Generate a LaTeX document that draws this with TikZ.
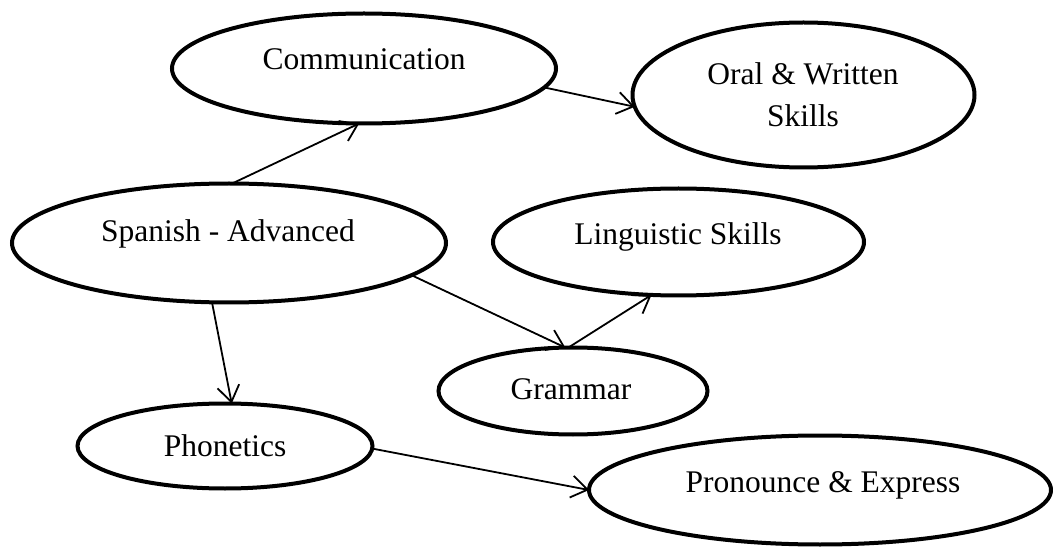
\documentclass[tikz,border=0pt]{standalone}
\usepackage{fontspec}
\setmainfont{Liberation Serif}
\usetikzlibrary{shapes.geometric,arrows.meta}

\tikzset{
  bubble/.style={ellipse, draw=black, line width=4pt, inner sep=0pt, outer sep=0pt},
  nodetext/.style={font=\fontsize{31.5}{42}\selectfont, inner sep=0pt, anchor=base},
  arrowline/.style={line width=1.8pt,
    -{Straight Barb[length=16pt,width=22pt,line width=1.8pt]}},
}

\begin{document}
\begin{tikzpicture}[x=1pt,y=-1pt]
\useasboundingbox (0,0) rectangle (1053,548);

% ellipses
\node[bubble, minimum width=384pt, minimum height=110pt] (comm) at (364,68.5) {};
\node[bubble, minimum width=342pt, minimum height=145pt] (oral) at (803.5,95) {};
\node[bubble, minimum width=434pt, minimum height=119pt] (span) at (229,243) {};
\node[bubble, minimum width=371pt, minimum height=107pt] (ling) at (678.5,242) {};
\node[bubble, minimum width=269pt, minimum height=87pt] (gram) at (573,391) {};
\node[bubble, minimum width=295pt, minimum height=85pt] (phon) at (225,446) {};
\node[bubble, minimum width=462pt, minimum height=109pt] (pron) at (820,490) {};

% labels
\node[nodetext] (comm-t) at (364,70) {Communication};
\node[nodetext, anchor=center, align=center] (oral-t) at (803,95) {Oral \& Written\\Skills};
\node[nodetext] (span-t) at (228,242) {Spanish - Advanced};
\node[nodetext] (ling-t) at (678,245) {Linguistic Skills};
\node[nodetext] (gram-t) at (571,399) {Grammar};
\node[nodetext] (phon-t) at (225,456) {Phonetics};
\node[nodetext] (pron-t) at (823,492) {Pronounce \& Express};

% connectors
\draw[arrowline] (span.87) -- (comm.265);
\draw[arrowline] (comm.354) -- (oral.184);
\draw[arrowline] (span.350) -- (gram.100);
\draw[arrowline] (gram.96) -- (ling.243);
\draw[arrowline] (span.254) -- (phon.81);
\draw[arrowline] (phon.359) -- (pron.180);
\end{tikzpicture}
\end{document}
